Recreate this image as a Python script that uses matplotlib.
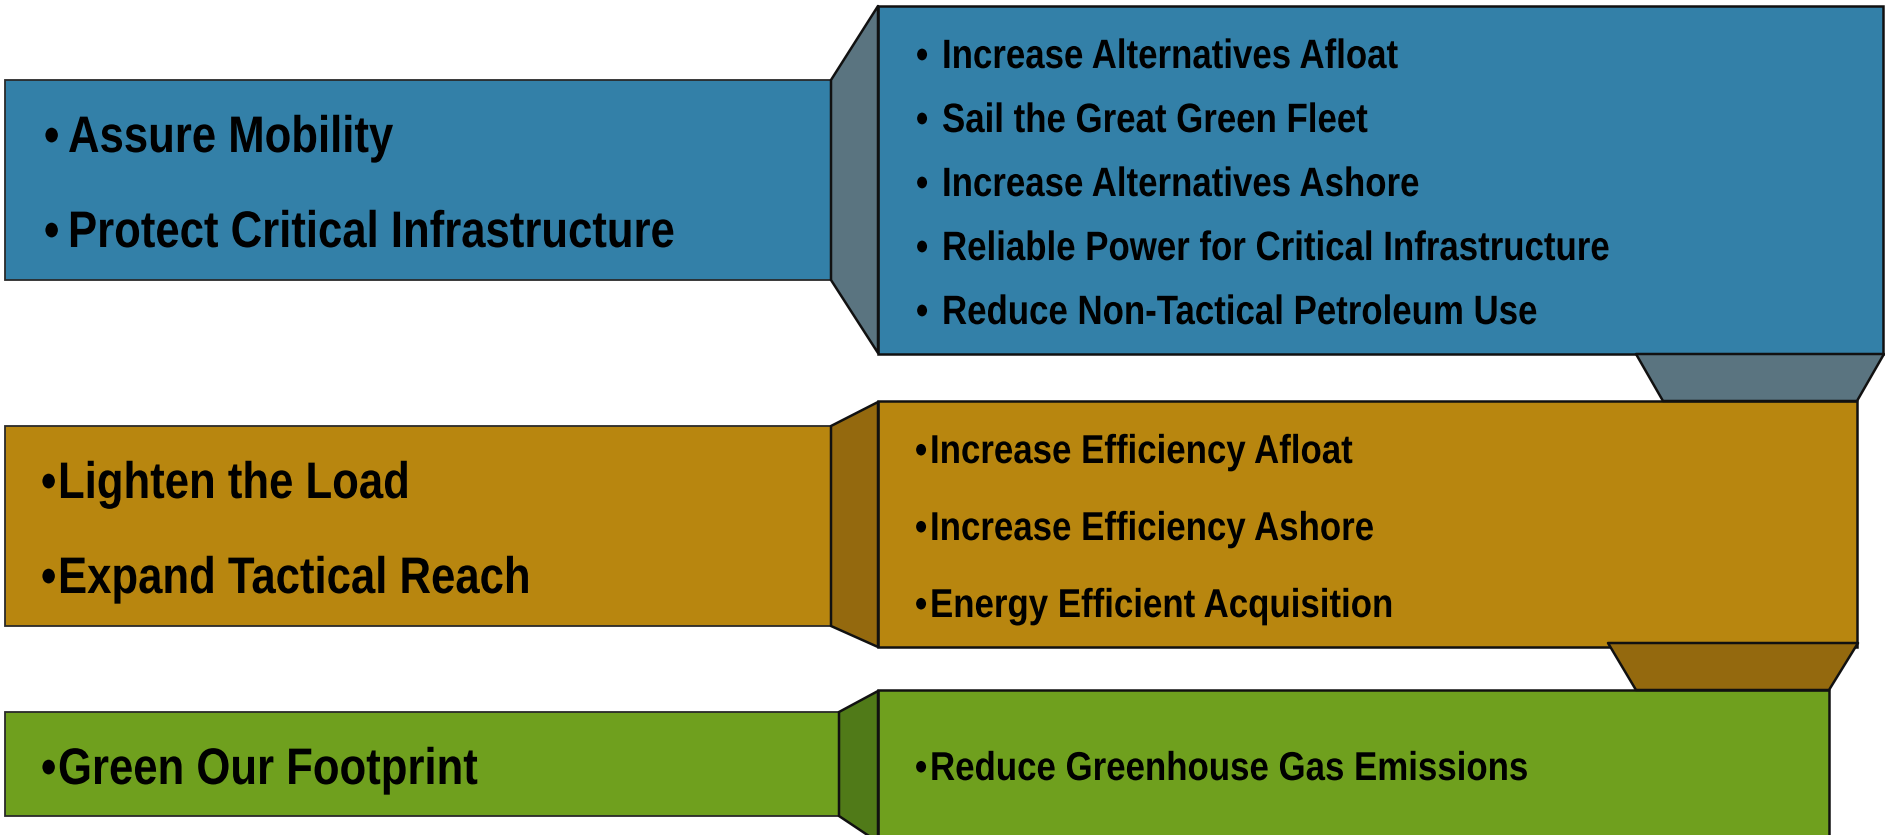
import matplotlib
matplotlib.use("Agg")
import matplotlib.pyplot as plt
from matplotlib.patches import Polygon, Rectangle
from matplotlib.patheffects import AbstractPathEffect
from matplotlib.transforms import Affine2D

# text content
goals_blue = ["Assure Mobility", "Protect Critical Infrastructure"]
goals_gold = ["Lighten the Load", "Expand Tactical Reach"]
goals_green = ["Green Our Footprint"]
items_blue = [
    "Increase Alternatives Afloat",
    "Sail the Great Green Fleet",
    "Increase Alternatives Ashore",
    "Reliable Power for Critical Infrastructure",
    "Reduce Non-Tactical Petroleum Use",
]
items_gold = [
    "Increase Efficiency Afloat",
    "Increase Efficiency Ashore",
    "Energy Efficient Acquisition",
]
items_green = ["Reduce Greenhouse Gas Emissions"]

# colours: (face, connector face)
BLUE = ("#3380a8", "#5a7480")
GOLD = ("#b8860f", "#94690e")
GREEN = ("#6fa01e", "#507a18")

FONT = ["Liberation Sans", "DejaVu Sans"]
W, H = 1885, 835


class Condense(AbstractPathEffect):
    # squeeze glyphs horizontally about the text's left edge (narrow font look)
    def __init__(self, sx=0.85):
        super().__init__()
        self.sx = sx

    def draw_path(self, renderer, gc, tpath, affine, rgbFace=None):
        x0 = affine.transform((0, 0))[0]
        squeeze = Affine2D().translate(-x0, 0).scale(self.sx, 1).translate(x0, 0)
        renderer.draw_path(gc, tpath, affine + squeeze, rgbFace)


fig = plt.figure(figsize=(W / 100, H / 100), dpi=100)
ax = fig.add_axes((0, 0, 1, 1))
ax.set_xlim(0, W)
ax.set_ylim(H, 0)
ax.axis("off")


def box(x0, y0, x1, y1, color, lw=1.3, ec="#2a2a2a", z=1):
    ax.add_patch(Rectangle((x0, y0), x1 - x0, y1 - y0, facecolor=color,
                           edgecolor=ec, linewidth=lw, zorder=z))


def poly(pts, color, z=2):
    ax.add_patch(Polygon(pts, closed=True, facecolor=color, edgecolor="#111111",
                         linewidth=1.8, joinstyle="round", zorder=z))


def bullets(lines, bx, tx, y0, step, size, sx=0.85):
    fx = [Condense(sx)]
    for i, line in enumerate(lines):
        y = y0 + i * step
        ax.text(bx, y, "\u2022", family=FONT, weight="bold", fontsize=size,
                ha="left", va="baseline", zorder=5, path_effects=fx)
        ax.text(tx, y, line, family=FONT, weight="bold", fontsize=size,
                ha="left", va="baseline", zorder=5, path_effects=fx)


# blue row
box(5, 80, 831, 280, BLUE[0])
poly([(831, 80), (878, 6), (878, 353), (831, 280)], BLUE[1])
box(878, 6, 1883, 354, BLUE[0], lw=1.8, ec="#111111")
# gold row
box(5, 426, 831, 626, GOLD[0])
poly([(831, 426), (878, 402), (878, 647), (831, 626)], GOLD[1])
box(878, 401, 1857, 647, GOLD[0], lw=1.8, ec="#111111")
poly([(1636, 354), (1884, 354), (1857, 401), (1663, 401)], BLUE[1], z=3)
# green row
box(5, 712, 839, 816, GREEN[0])
poly([(839, 712), (878, 691), (878, 842), (839, 816)], GREEN[1])
box(878, 690, 1829, 860, GREEN[0], lw=1.8, ec="#111111")
poly([(1608, 643), (1858, 643), (1829, 690), (1636, 690)], GOLD[1], z=3)

bullets(goals_blue, 44, 68, 152, 95, 37)
bullets(goals_gold, 41, 58, 498, 95, 37)
bullets(goals_green, 41, 58, 784, 95, 37)
bullets(items_blue, 916, 942, 68, 64, 29.5)
bullets(items_gold, 915, 930, 463, 77, 29, sx=0.865)
bullets(items_green, 915, 930, 780, 77, 29, sx=0.865)

fig.savefig("out.png", dpi=100)
